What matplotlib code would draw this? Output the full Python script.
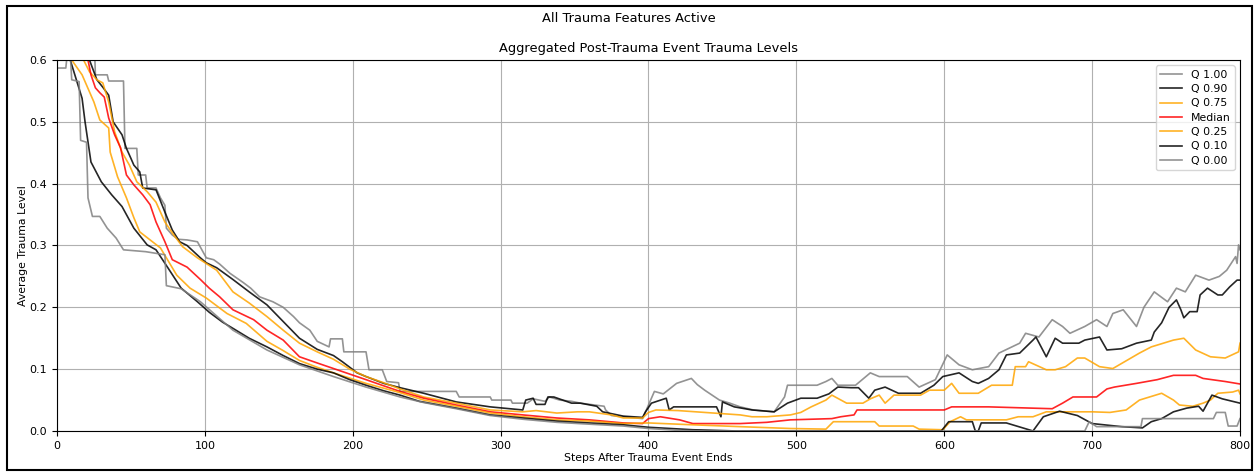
import matplotlib.pyplot as plt
from matplotlib.patches import Rectangle

# quantile curves, (step, level) pairs
q100_x = [0, 25, 26, 34, 35, 45, 46, 54, 55, 60, 61, 67, 70, 73, 74, 78, 82, 88, 95, 101, 106, 110, 117, 126,
          131, 137, 146, 153, 160, 164, 171, 176, 184, 185, 193, 194, 209, 211, 220, 223, 231, 232, 270, 272,
          293, 294, 307, 308, 318, 322, 330, 333, 340, 348, 354, 370, 371, 375, 396, 400, 404, 410, 419, 429,
          433, 438, 448, 455, 462, 471, 485, 492, 494, 514, 520, 524, 528, 540, 550, 556, 575, 583, 594, 602,
          610, 619, 630, 637, 651, 655, 664, 673, 680, 685, 695, 703, 710, 714, 721, 730, 735, 742, 751, 757,
          763, 770, 779, 786, 791, 797, 798, 799, 800]
q100_y = [0.65, 0.65, 0.576, 0.576, 0.566, 0.566, 0.457, 0.457, 0.414, 0.414, 0.393, 0.393, 0.377, 0.365,
          0.328, 0.317, 0.31, 0.309, 0.306, 0.28, 0.277, 0.27, 0.255, 0.24, 0.231, 0.217, 0.209, 0.2, 0.185,
          0.175, 0.163, 0.145, 0.136, 0.149, 0.149, 0.128, 0.128, 0.099, 0.099, 0.08, 0.078, 0.064, 0.064,
          0.055, 0.055, 0.05, 0.05, 0.045, 0.045, 0.052, 0.048, 0.055, 0.05, 0.048, 0.045, 0.04, 0.034, 0.025,
          0.02, 0.042, 0.064, 0.06, 0.077, 0.085, 0.075, 0.066, 0.05, 0.045, 0.039, 0.034, 0.031, 0.055, 0.074,
          0.074, 0.08, 0.085, 0.074, 0.074, 0.094, 0.088, 0.088, 0.071, 0.083, 0.123, 0.107, 0.099, 0.104,
          0.126, 0.142, 0.158, 0.152, 0.18, 0.169, 0.158, 0.169, 0.18, 0.169, 0.19, 0.196, 0.169, 0.2, 0.225,
          0.209, 0.231, 0.225, 0.252, 0.244, 0.25, 0.26, 0.282, 0.271, 0.301, 0.293]

q90_x = [0, 22, 27, 31, 35, 38, 44, 47, 50, 52, 56, 58, 67, 73, 78, 83, 88, 97, 101, 108, 119, 130, 142, 153,
         164, 176, 187, 193, 203, 209, 221, 232, 248, 270, 293, 315, 317, 322, 324, 330, 332, 336, 348, 354,
         365, 369, 383, 396, 398, 402, 412, 414, 417, 446, 449, 450, 458, 470, 485, 494, 503, 514, 522, 528,
         537, 542, 549, 553, 560, 569, 584, 593, 599, 610, 619, 623, 630, 637, 642, 651, 660, 662, 669, 675,
         680, 691, 695, 705, 710, 720, 730, 740, 742, 747, 752, 757, 760, 762, 766, 771, 773, 778, 785, 788,
         793, 798, 800]
q90_y = [0.65, 0.6, 0.568, 0.556, 0.543, 0.5, 0.479, 0.457, 0.441, 0.43, 0.419, 0.393, 0.39, 0.354, 0.325,
         0.306, 0.3, 0.28, 0.272, 0.264, 0.245, 0.225, 0.204, 0.177, 0.15, 0.132, 0.122, 0.112, 0.094, 0.088,
         0.077, 0.07, 0.061, 0.047, 0.039, 0.034, 0.05, 0.053, 0.043, 0.043, 0.055, 0.055, 0.045, 0.045, 0.04,
         0.031, 0.024, 0.022, 0.031, 0.045, 0.053, 0.034, 0.039, 0.039, 0.023, 0.047, 0.039, 0.034, 0.031,
         0.045, 0.053, 0.053, 0.06, 0.071, 0.07, 0.07, 0.053, 0.066, 0.071, 0.061, 0.061, 0.074, 0.088, 0.094,
         0.08, 0.077, 0.085, 0.099, 0.123, 0.126, 0.147, 0.152, 0.12, 0.15, 0.142, 0.142, 0.147, 0.152, 0.131,
         0.133, 0.142, 0.147, 0.16, 0.175, 0.2, 0.212, 0.196, 0.183, 0.193, 0.193, 0.22, 0.231, 0.22, 0.22,
         0.233, 0.244, 0.244]

q75_x = [0, 18, 22, 27, 31, 35, 39, 44, 49, 54, 61, 67, 73, 79, 85, 95, 108, 119, 130, 142, 153, 164, 176,
         187, 198, 209, 221, 232, 248, 270, 293, 315, 324, 338, 352, 360, 375, 383, 396, 400, 405, 420, 462,
         470, 480, 496, 503, 510, 520, 524, 534, 545, 550, 556, 560, 566, 584, 590, 600, 605, 610, 623, 632,
         646, 648, 655, 657, 669, 675, 682, 690, 695, 705, 714, 732, 740, 755, 762, 770, 780, 790, 799, 800]
q75_y = [0.65, 0.6, 0.581, 0.568, 0.563, 0.532, 0.484, 0.451, 0.43, 0.403, 0.387, 0.37, 0.338, 0.317, 0.298,
         0.28, 0.26, 0.225, 0.207, 0.185, 0.163, 0.142, 0.128, 0.116, 0.1, 0.088, 0.078, 0.068, 0.055, 0.045,
         0.034, 0.031, 0.033, 0.029, 0.031, 0.031, 0.026, 0.021, 0.021, 0.03, 0.034, 0.033, 0.026, 0.023,
         0.023, 0.026, 0.03, 0.039, 0.05, 0.058, 0.045, 0.045, 0.052, 0.058, 0.045, 0.058, 0.058, 0.066, 0.066,
         0.077, 0.061, 0.061, 0.074, 0.074, 0.104, 0.104, 0.112, 0.099, 0.099, 0.104, 0.118, 0.118, 0.104,
         0.101, 0.126, 0.136, 0.147, 0.15, 0.131, 0.12, 0.118, 0.128, 0.142]

q50_x = [0, 21, 23, 26, 29, 32, 35, 39, 43, 47, 52, 58, 63, 67, 73, 78, 88, 97, 103, 110, 119, 133, 142, 153,
         164, 176, 187, 198, 209, 221, 232, 248, 270, 293, 315, 338, 360, 383, 396, 400, 408, 421, 430, 462,
         480, 496, 524, 530, 539, 541, 556, 600, 605, 630, 673, 680, 687, 703, 710, 715, 730, 744, 755, 770,
         775, 790, 800]
q50_y = [0.65, 0.6, 0.576, 0.555, 0.547, 0.54, 0.506, 0.479, 0.458, 0.414, 0.398, 0.382, 0.366, 0.338, 0.306,
         0.277, 0.265, 0.245, 0.231, 0.217, 0.196, 0.18, 0.163, 0.147, 0.12, 0.11, 0.101, 0.092, 0.083, 0.073,
         0.064, 0.053, 0.042, 0.031, 0.026, 0.021, 0.018, 0.013, 0.012, 0.02, 0.023, 0.018, 0.012, 0.012,
         0.014, 0.018, 0.02, 0.023, 0.026, 0.034, 0.034, 0.034, 0.039, 0.039, 0.036, 0.045, 0.055, 0.055,
         0.068, 0.071, 0.077, 0.083, 0.09, 0.09, 0.085, 0.08, 0.076]

q25_x = [0, 10, 17, 25, 29, 35, 36, 41, 47, 52, 56, 63, 70, 74, 81, 90, 101, 115, 128, 142, 153, 164, 176,
         187, 209, 232, 248, 270, 293, 315, 338, 360, 383, 400, 430, 462, 496, 520, 525, 553, 556, 579, 583,
         599, 604, 611, 615, 642, 650, 660, 669, 700, 712, 723, 732, 747, 755, 759, 768, 775, 780, 785, 795,
         799, 800]
q25_y = [0.65, 0.6, 0.576, 0.532, 0.503, 0.49, 0.451, 0.411, 0.377, 0.345, 0.322, 0.309, 0.296, 0.28, 0.252,
         0.231, 0.215, 0.19, 0.174, 0.145, 0.13, 0.114, 0.103, 0.094, 0.077, 0.062, 0.05, 0.04, 0.029, 0.023,
         0.018, 0.016, 0.012, 0.013, 0.01, 0.007, 0.004, 0.003, 0.015, 0.015, 0.008, 0.008, 0.003, 0.002,
         0.015, 0.023, 0.018, 0.018, 0.023, 0.023, 0.031, 0.031, 0.03, 0.034, 0.05, 0.061, 0.05, 0.042, 0.04,
         0.045, 0.05, 0.061, 0.063, 0.066, 0.06]

q10_x = [0, 9, 17, 19, 23, 30, 37, 44, 52, 61, 67, 75, 84, 95, 103, 112, 119, 130, 142, 153, 164, 176, 187,
         198, 209, 221, 232, 245, 270, 293, 315, 338, 360, 383, 400, 430, 460, 598, 603, 619, 621, 623, 625,
         642, 660, 667, 678, 690, 700, 720, 734, 740, 747, 755, 764, 772, 775, 781, 788, 800]
q10_y = [0.65, 0.6, 0.538, 0.5, 0.435, 0.403, 0.382, 0.363, 0.328, 0.301, 0.293, 0.264, 0.231, 0.209, 0.192,
         0.176, 0.166, 0.15, 0.136, 0.122, 0.109, 0.1, 0.094, 0.083, 0.074, 0.065, 0.058, 0.048, 0.037, 0.026,
         0.021, 0.016, 0.013, 0.01, 0.006, 0.002, 0.0, 0.0, 0.015, 0.015, 0.0, 0.0, 0.013, 0.013, 0.0, 0.023,
         0.032, 0.025, 0.012, 0.007, 0.005, 0.015, 0.02, 0.031, 0.037, 0.04, 0.032, 0.058, 0.052, 0.045]

q0_x = [0, 6, 7, 9, 10, 15, 16, 20, 21, 24, 29, 34, 40, 45, 60, 73, 74, 84, 97, 119, 142, 164, 187, 209, 232,
        248, 270, 293, 315, 338, 360, 383, 400, 420, 440, 695, 698, 703, 733, 734, 782, 784, 790, 792, 798, 800]
q0_y = [0.587, 0.587, 0.61, 0.61, 0.568, 0.565, 0.47, 0.467, 0.377, 0.347, 0.347, 0.328, 0.312, 0.293, 0.29,
        0.285, 0.235, 0.23, 0.209, 0.163, 0.131, 0.107, 0.088, 0.071, 0.055, 0.046, 0.036, 0.025, 0.019,
        0.014, 0.011, 0.008, 0.004, 0.001, 0.0, 0.0, 0.015, 0.007, 0.007, 0.02, 0.02, 0.03, 0.03, 0.008,
        0.008, 0.02]

labels = ["Q 1.00", "Q 0.90", "Q 0.75", "Median", "Q 0.25", "Q 0.10", "Q 0.00"]
colors = ["grey", "black", "orange", "red", "orange", "black", "grey"]

if __name__ == '__main__':
    fig = plt.figure(figsize=(12.57, 4.72), dpi=100)
    ax = fig.add_axes([0.0453, 0.0869, 0.9412, 0.786])

    series = [(q100_x, q100_y), (q90_x, q90_y), (q75_x, q75_y), (q50_x, q50_y),
              (q25_x, q25_y), (q10_x, q10_y), (q0_x, q0_y)]
    for (xs, ys), lab, c in zip(series, labels, colors):
        ax.plot(xs, ys, color=c, label=lab, linewidth=1.2, alpha=0.85)

    ax.set_xlim(0, 800)
    ax.set_ylim(0, 0.6)
    ax.grid(True)
    ax.tick_params(labelsize=8)
    ax.set_xlabel("Steps After Trauma Event Ends", fontsize=7.8, labelpad=2)
    ax.set_ylabel("Average Trauma Level", fontsize=7.8, labelpad=1)
    ax.set_title("Aggregated Post-Trauma Event Trauma Levels", fontsize=9.4, pad=6)
    fig.suptitle("All Trauma Features Active", fontsize=9.4, y=0.975)
    ax.legend(loc="upper right", fontsize=7.8, labelspacing=0.4, borderpad=0.4)

    # frame around the whole picture
    fig.patches.append(Rectangle((0.0056, 0.004), 0.9904, 0.983, transform=fig.transFigure,
                                 fill=False, edgecolor="black", linewidth=1.5))

    fig.savefig("out.png", dpi=100)
